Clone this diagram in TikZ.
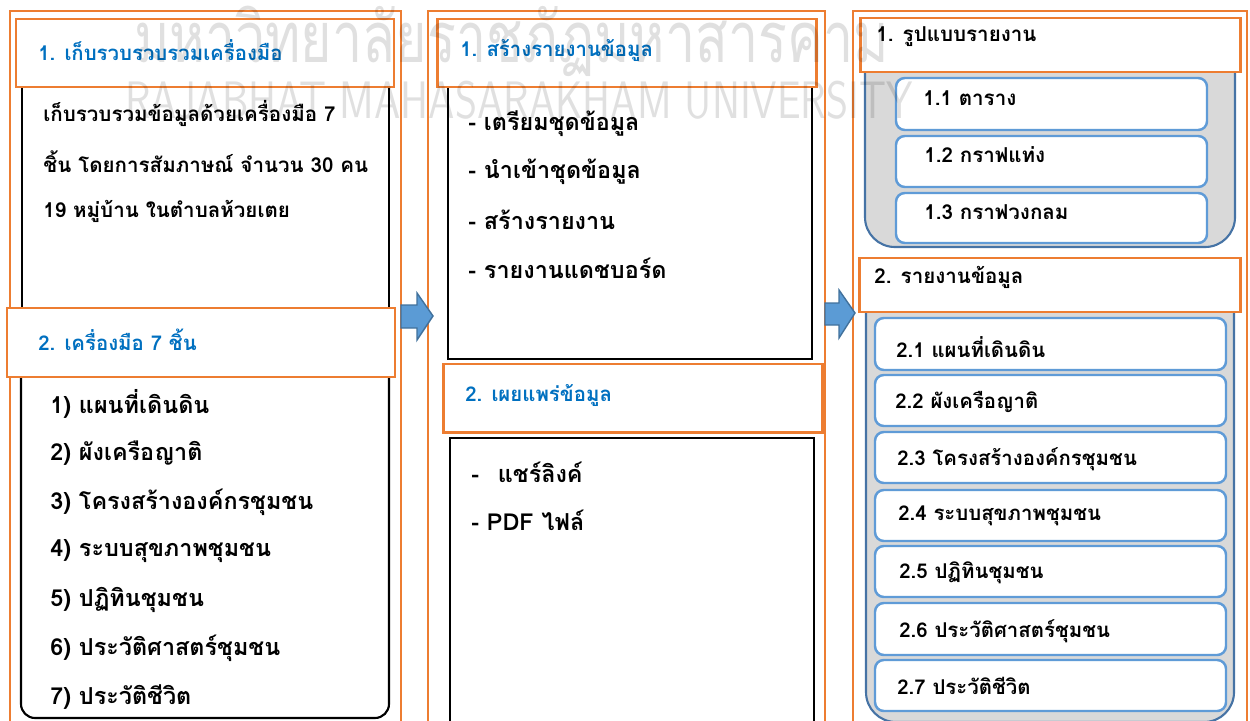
\documentclass[tikz,border=0pt]{standalone}
\usepackage{fontspec}
\newfontfamily\thaifont[Script=Thai]{Loma}
\usetikzlibrary{positioning,fit}

\definecolor{frameorange}{RGB}{237,125,49}
\definecolor{titleblue}{RGB}{0,112,192}
\definecolor{arrowblue}{RGB}{91,155,213}
\definecolor{arrowedge}{RGB}{65,113,156}
\definecolor{panelgray}{RGB}{217,217,217}
\definecolor{paneledge}{RGB}{70,115,165}
\definecolor{itemedge}{RGB}{95,155,215}

\tikzset{
    column/.style = {
        draw=frameorange,
        line width=1.1pt,
        inner sep=0pt
    },
    header/.style = {
        draw=frameorange,
        fill=white,
        line width=1.7pt,
        inner sep=0pt
    },
    plainbox/.style = {
        draw=black,
        line width=1.1pt,
        inner sep=0pt
    },
    roundbox/.style = {
        draw=black,
        line width=1.2pt,
        rounded corners=8pt,
        inner sep=0pt
    },
    panel/.style = {
        draw=paneledge,
        fill=panelgray,
        line width=1.2pt,
        rounded corners=17pt,
        inner sep=0pt
    },
    itembox/.style = {
        draw=itemedge,
        fill=white,
        line width=1.4pt,
        rounded corners=5pt,
        inner sep=0pt
    },
    blockarrow/.style = {
        draw=arrowedge,
        fill=arrowblue,
        line width=0.8pt,
        line join=miter
    },
    bluetitle/.style = {
        anchor=west,
        inner sep=0pt,
        text=titleblue,
        font=\thaifont\bfseries\fontsize{11.6}{13}\selectfont
    },
    blacktitle/.style = {
        anchor=west,
        inner sep=0pt,
        font=\thaifont\bfseries\fontsize{11.7}{13}\selectfont
    },
    bodytext/.style = {
        anchor=west,
        inner sep=0pt,
        font=\thaifont\bfseries\fontsize{11.7}{13}\selectfont
    },
    listtext/.style = {
        anchor=west,
        inner sep=0pt,
        font=\thaifont\bfseries\fontsize{13.3}{15}\selectfont
    },
    itemtext/.style = {
        anchor=west,
        inner sep=0pt,
        font=\thaifont\bfseries\fontsize{11.6}{13}\selectfont
    },
    watermark/.style = {
        anchor=west,
        inner sep=0pt,
        text=black,
        opacity=0.12
    }
}

\begin{document}
\begin{tikzpicture}[x=0.02cm, y=-0.02cm]

    \useasboundingbox (0,0) rectangle (1250,720);
    \clip (0,0) rectangle (1250,720);

    % left column
    \node[column, fit={(10,11) (401,740)}] (leftcol) {};
    \node[plainbox, fit={(22,70) (389,320)}] (leftbody) {};
    \node[roundbox, fit={(21,360) (389,718)}] (toolbox) {};
    \node[header, fit={(16,19) (394,87)}] (lefthead) {};
    \node[header, fit={(7,308) (395,377)}] (toolhead) {};

    % middle column
    \node[column, fit={(428,11) (825,740)}] (midcol) {};
    \node[plainbox, fit={(448,70) (812,359)}] (reportbody) {};
    \node[plainbox, fit={(450,438) (814,740)}] (sharebody) {};
    \node[header, fit={(437,19) (816,87)}] (reporthead) {};
    \node[header, fit={(443,364) (822,432)}] (sharehead) {};

    % right column
    \node[column, fit={(853,11) (1247,740)}] (rightcol) {};
    \node[panel, fit={(865,40) (1235,247)}] (formpanel) {};
    \node[panel, fit={(866,280) (1234,722)}] (datapanel) {};
    \node[header, fit={(860,18) (1240,72)}] (formhead) {};
    \node[header, fit={(859,258) (1240,312)}] (datahead) {};

    \node[itembox, fit={(896,78) (1207,130)}] (table) {};
    \node[itembox, fit={(896,136) (1207,187)}] (bars) {};
    \node[itembox, fit={(896,193) (1207,243)}] (pie) {};

    \node[itembox, fit={(875,318) (1226,370)}] (walkmap) {};
    \node[itembox, fit={(875,375) (1226,426)}] (kinship) {};
    \node[itembox, fit={(875,432) (1226,483)}] (orgchart) {};
    \node[itembox, fit={(875,490) (1226,541)}] (health) {};
    \node[itembox, fit={(875,546) (1226,597)}] (calendar) {};
    \node[itembox, fit={(875,603) (1226,655)}] (history) {};
    \node[itembox, fit={(875,660) (1226,711)}] (lifestory) {};

    % block arrows between the columns
    \coordinate (arrowA) at (401,315);
    \coordinate (arrowB) at (825,313);
    \draw[blockarrow] (arrowA) ++(0,-10) -- ++(16,0) -- ++(0,-12) -- ++(16,23)
        -- ++(-16,24) -- ++(0,-12) -- ++(-16,0) -- cycle;
    \draw[blockarrow] (arrowB) ++(0,-10) -- ++(14,0) -- ++(0,-13) -- ++(16,23)
        -- ++(-16,25) -- ++(0,-13) -- ++(-14,0) -- cycle;

    % texts, left
    \node[bluetitle] (leftheadtext) at (38,50) {1. เก็บรวบรวบรวมเครื่องมือ};
    \node[bodytext] (bodyA) at (43,113) {เก็บรวบรวมข้อมูลด้วยเครื่องมือ 7};
    \node[bodytext] (bodyB) at (43,162) {ชิ้น โดยการสัมภาษณ์ จำนวน 30 คน};
    \node[bodytext] (bodyC) at (43,211) {19 หมู่บ้าน ในตำบลห้วยเตย};
    \node[bluetitle] (toolheadtext) at (38,340) {2. เครื่องมือ 7 ชิ้น};
    \node[listtext] (toolA) at (50,404) {1) แผนที่เดินดิน};
    \node[listtext] (toolB) at (50,453) {2) ผังเครือญาติ};
    \node[listtext] (toolC) at (50,502) {3) โครงสร้างองค์กรชุมชน};
    \node[listtext] (toolD) at (50,551) {4) ระบบสุขภาพชุมชน};
    \node[listtext] (toolE) at (50,600) {5) ปฏิทินชุมชน};
    \node[listtext] (toolF) at (50,648) {6) ประวัติศาสตร์ชุมชน};
    \node[listtext] (toolG) at (50,697) {7) ประวัติชีวิต};

    % texts, middle
    \node[bluetitle] (reportheadtext) at (460,50) {1. สร้างรายงานข้อมูล};
    \node[listtext] (stepA) at (468,124) {- เตรียมชุดข้อมูล};
    \node[listtext] (stepB) at (468,172) {- นำเข้าชุดข้อมูล};
    \node[listtext] (stepC) at (468,220) {- สร้างรายงาน};
    \node[listtext] (stepD) at (468,268) {- รายงานแดชบอร์ด};
    \node[bluetitle] (shareheadtext) at (465,395) {2. เผยแพร่ข้อมูล};
    \node[listtext] (shareA) at (471,472) {-\hspace{0.8em}แชร์ลิงค์};
    \node[listtext] (shareB) at (471,520) {- PDF ไฟล์};

    % texts, right
    \node[blacktitle] (formheadtext) at (876,37) {1. รูปแบบรายงาน};
    \node[blacktitle] (tabletext) at (923,98) {1.1 ตาราง};
    \node[blacktitle] (barstext) at (924,155) {1.2 กราฟแท่ง};
    \node[blacktitle] (pietext) at (924,212) {1.3 กราฟวงกลม};
    \node[blacktitle] (dataheadtext) at (874,277) {2. รายงานข้อมูล};
    \node[itemtext] (walkmaptext) at (896,347) {2.1 แผนที่เดินดิน};
    \node[itemtext] (kinshiptext) at (895,402) {2.2 ผังเครือญาติ};
    \node[itemtext] (orgcharttext) at (897,459) {2.3 โครงสร้างองค์กรชุมชน};
    \node[itemtext] (healthtext) at (898,516) {2.4 ระบบสุขภาพชุมชน};
    \node[itemtext] (calendartext) at (899,573) {2.5 ปฏิทินชุมชน};
    \node[itemtext] (historytext) at (899,631) {2.6 ประวัติศาสตร์ชุมชน};
    \node[itemtext] (lifestorytext) at (897,686) {2.7 ประวัติชีวิต};

    % watermark
    \node[watermark, font=\thaifont\fontsize{40}{44}\selectfont, xscale=0.765] (markthai) at (134,41) {มหาวิทยาลัยราชภัฏมหาสารคาม};
    \node[watermark, font=\fontsize{30}{32}\selectfont\sffamily, xscale=0.8] (markeng) at (125,100) {RAJABHAT MAHASARAKHAM UNIVERSITY};

\end{tikzpicture}
\end{document}
